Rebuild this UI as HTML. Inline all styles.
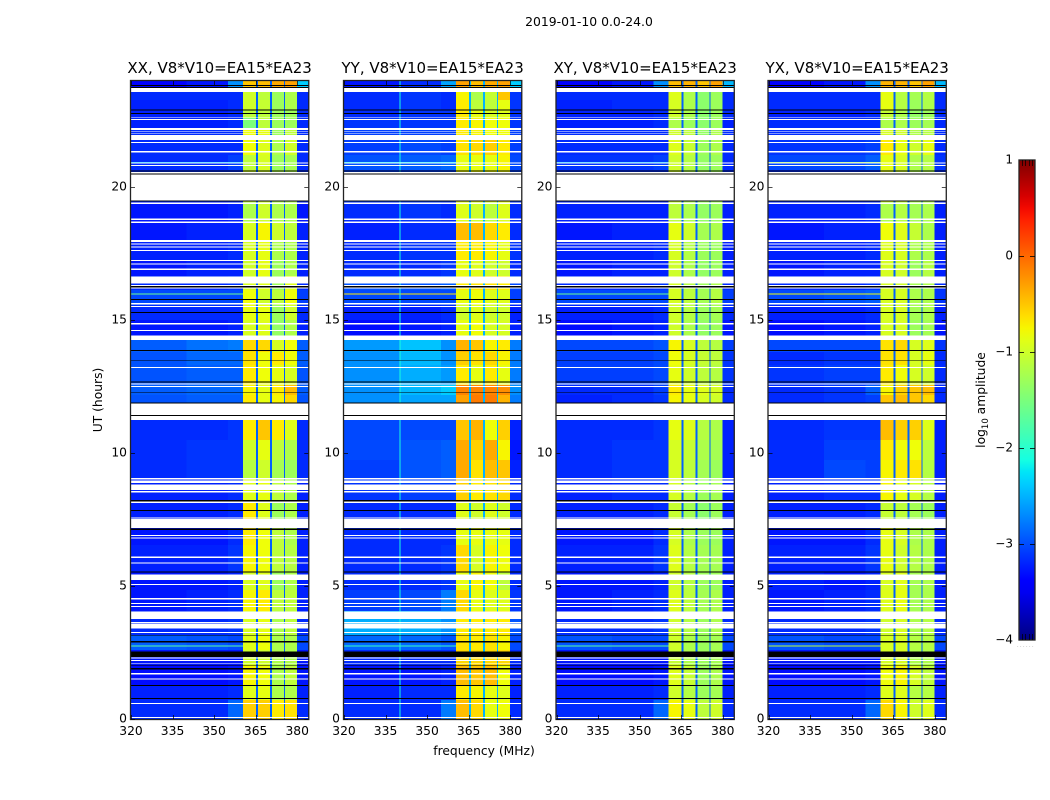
<!DOCTYPE html>
<html lang="en">
<head>
<meta charset="utf-8">
<title>2019-01-10 dynamic spectra</title>
<style>
html,body{margin:0;padding:0;background:#fff;}
svg{display:block;font-family:"DejaVu Sans","Liberation Sans",sans-serif;}
</style>
</head>
<body>
<svg id="figure" width="1050" height="800" viewBox="0 0 1050 800" xmlns="http://www.w3.org/2000/svg">
<rect width="1050" height="800" fill="#fff"/>
<text x="589" y="26" font-size="12.4" text-anchor="middle" fill="#000">2019-01-10 0.0-24.0</text>
<text x="484" y="755" font-size="12.3" text-anchor="middle" fill="#000">frequency (MHz)</text>
<text x="0" y="0" transform="translate(102,400) rotate(-90)" font-size="12.3" text-anchor="middle" fill="#000">UT (hours)</text>
<text x="0" y="0" transform="translate(985,400) rotate(-90)" font-size="12.3" text-anchor="middle" fill="#000">log<tspan font-size="8.5" dy="3">10</tspan><tspan dy="-3"> amplitude</tspan></text>
<g id="panels"></g>
<g id="colorbar"></g>
</svg>
<script>
/* ---------- axis data ---------- */
const panelTitles = ["XX, V8*V10=EA15*EA23","YY, V8*V10=EA15*EA23","XY, V8*V10=EA15*EA23","YX, V8*V10=EA15*EA23"];
const freqTicks = [320,335,350,365,380];
const utTicks = [0,5,10,15,20];
const colorbarTicks = [1,0,-1,-2,-3,-4];
const colorbarTickLabels = ["1","0","\u22121","\u22122","\u22123","\u22124"];
const colorbarMinorFrac = [0.2,0.4,0.6,0.8];

/* frequency column edges in MHz: three low-band blocks, four spectral windows with gaps, tail */
const columnEdges = [[320,340],[340,355],[355,360.4],[360.4,365.1],[365.8,370.2],[370.9,375.2],[375.6,380],[380,384]];
const gapEdges = [[365.1,365.8],[370.2,370.9],[375.2,375.6]];
const gapLevels = [-2.9,-2.5,-2.9,-2.9];
/* the speckled low band averages darker than its brightest pixels */
const lowBandShift = -0.17;

/* UT band edges (hours), top to bottom */
const bandEdges = [24,23.76,23.27,22.89,22.59,22.14,21.77,21.2,20.64,19.44,18.68,18.01,17.26,16.65,16.13,15.56,15,14.25,13.8,13.31,12.56,12.18,11.88,11.24,10.49,9.74,9.06,8.23,7.52,6.54,5.53,4.85,4.06,3.16,2.59,2.03,1.28,0.71,0];

/* log10 amplitude per band: low-a, low-b, low-c, spw1, spw2, spw3, spw4, tail */
const xxRows = [
[-3.2,-3.1,-2.5,-.5,-.45,-.35,-.3,-2.2],
[-3,-3,-3,-1,-1.1,-1.3,-1.2,-3],
[-3.05,-3.05,-3,-1,-1.05,-1.3,-1.2,-3],
[-3.05,-3.05,-3,-1.1,-1.1,-1.3,-1.3,-3],
[-3.05,-3.05,-3,-1.5,-1.1,-1.3,-1.3,-3],
[-3,-3,-3,-.8,-.85,-1.3,-1.1,-3],
[-3,-3,-3,-.8,-.9,-1.2,-1,-3],
[-3,-3,-2.9,-1.1,-.95,-1.3,-1.25,-3],
[-3,-3,-3,-1,-1,-1.2,-1.2,-3],
[-3.1,-3.1,-3.05,-1.2,-1,-1.2,-1.2,-3.1],
[-3.1,-3.05,-3.05,-.95,-.75,-1,-1.1,-3.05],
[-3.05,-3.05,-3,-.95,-.85,-1.2,-1.2,-3.05],
[-3.1,-3.05,-3.05,-1,-.85,-1.3,-1.2,-3.05],
[-3,-3,-2.95,-.95,-.9,-1.3,-.9,-3],
[-2.85,-2.85,-2.85,-.8,-1,-1.1,-.8,-2.9],
[-3,-3,-3,-.85,-.85,-1.3,-1,-3],
[-3.1,-3.1,-3.05,-.95,-.9,-1.35,-1.2,-3.05],
[-2.75,-2.65,-2.6,-.6,-.6,-.95,-.8,-2.75],
[-2.8,-2.7,-2.7,-.65,-.8,-.7,-.8,-2.75],
[-2.8,-2.75,-2.75,-.7,-.8,-.85,-.95,-2.8],
[-2.75,-2.7,-2.7,-.75,-.85,-.7,-.45,-2.75],
[-2.8,-2.75,-2.75,-.7,-.85,-.75,-.6,-2.8],
[-2.9,-2.9,-2.9,-.7,-.85,-.75,-.8,-2.9],
[-3,-3,-2.95,-.7,-.5,-.7,-.9,-3],
[-3,-2.95,-2.95,-1,-.85,-1.1,-1.2,-3],
[-3,-2.95,-2.95,-1.15,-1,-1.25,-1.3,-3],
[-3.05,-3.05,-3,-.9,-.85,-1.1,-1.2,-3.05],
[-3.05,-3.05,-3,-.7,-.9,-1.3,-1.2,-3.05],
[-3.1,-3.1,-3,-.7,-.8,-1.1,-1.2,-3.05],
[-3.05,-3.05,-2.95,-.75,-.8,-1.1,-1.15,-3.05],
[-3.1,-3.1,-3.05,-.95,-.9,-1.3,-1.2,-3.05],
[-3.1,-3.05,-3,-.75,-.7,-1.1,-1.1,-3.05],
[-3,-3,-2.95,-.95,-.85,-1.2,-1.1,-3],
[-2.75,-2.8,-2.85,-.9,-.8,-1.2,-1.2,-2.85],
[-3.1,-3.1,-3.1,-1,-1,-1.2,-1.2,-3.1],
[-3.15,-3.15,-3.1,-.75,-.8,-1.2,-1.1,-3.1],
[-3.05,-3.05,-3,-.9,-.85,-1.2,-1.2,-3.05],
[-3,-3,-2.7,-.55,-.55,-.7,-.65,-3]
];
const yyRows = [
[-3.1,-3,-2.4,-.3,-.45,-.35,-.3,-2.2],
[-3,-2.95,-3,-.75,-1.2,-1.05,-.5,-2.95],
[-3,-2.95,-3,-.7,-1.1,-1.1,-.85,-2.95],
[-3,-2.95,-2.95,-.7,-.85,-.95,-.9,-2.95],
[-2.95,-2.95,-2.95,-.7,-.75,-.8,-.8,-2.95],
[-2.9,-2.9,-2.9,-.7,-.75,-.8,-.8,-2.9],
[-2.9,-2.85,-2.9,-.65,-.6,-.55,-.7,-2.9],
[-2.8,-2.75,-2.7,-.85,-.85,-.85,-.75,-2.85],
[-2.9,-2.9,-2.9,-.8,-.8,-.8,-.8,-2.9],
[-3,-2.95,-3,-.9,-1,-1.1,-.9,-3],
[-3.05,-3,-3,-.45,-.45,-.6,-.7,-3],
[-3,-2.95,-2.95,-.7,-.7,-.75,-.85,-2.95],
[-3,-3,-2.95,-.85,-.9,-1,-1,-3],
[-2.8,-2.8,-2.75,-.7,-.65,-.65,-.7,-2.85],
[-2.85,-2.85,-2.85,-.85,-.8,-.9,-.9,-2.9],
[-3.05,-3.05,-3,-1,-.9,-1,-1,-3.05],
[-3.15,-3.1,-3.05,-.85,-.8,-.95,-.95,-3.05],
[-2.45,-2.25,-2.5,-.4,-.5,-.75,-.7,-2.6],
[-2.5,-2.3,-2.5,-.55,-.65,-.6,-.75,-2.6],
[-2.5,-2.35,-2.45,-.7,-.85,-.7,-.85,-2.6],
[-2.5,-2.3,-2.2,-.15,-.15,-.15,-.2,-2.5],
[-2.5,-2.4,-2.4,-.3,-.1,-.1,-.4,-2.6],
[-2.6,-2.6,-2.6,-.5,-.5,-.5,-.5,-2.7],
[-2.85,-2.85,-2.85,-.5,-.4,-.8,-.55,-3.05],
[-2.85,-2.8,-2.75,-.35,-.55,-.35,-.75,-3.1],
[-2.9,-2.8,-2.75,-.35,-.65,-.45,-.5,-3.05],
[-2.95,-2.9,-2.9,-.55,-.7,-.65,-.6,-3],
[-3,-3,-3,-.9,-1,-.9,-1,-3],
[-3,-3,-3,-.85,-.85,-.85,-.85,-3],
[-3,-3,-2.95,-.6,-.95,-.75,-.8,-3],
[-3,-3,-2.95,-.85,-.75,-.8,-1.1,-3],
[-2.9,-2.85,-2.6,-.6,-.85,-.9,-.9,-2.95],
[-2.35,-2.35,-2.5,-.7,-.7,-.7,-.7,-2.8],
[-2.7,-2.7,-2.8,-.65,-.7,-.65,-.75,-2.85],
[-3,-3,-3,-.6,-.6,-.6,-.6,-3],
[-3.1,-3.1,-3.05,-.45,-.5,-.45,-.8,-3.05],
[-3.05,-3,-3,-.7,-.75,-.85,-.9,-3.05],
[-3,-3,-2.6,-.45,-.6,-.85,-.8,-3]
];
const xyRows = [
[-3.2,-3.1,-2.5,-.45,-.4,-.5,-.3,-2.3],
[-3,-3,-3,-.9,-1.2,-1.4,-1.3,-3],
[-3.05,-3,-3,-.95,-1.2,-1.4,-1.3,-3],
[-3.05,-3.05,-3,-1,-1.2,-1.4,-1.3,-3],
[-3.05,-3.05,-3,-1.2,-1.3,-1.4,-1.3,-3.05],
[-3,-3,-3,-1,-1.1,-1.35,-1.2,-3],
[-3,-3,-3,-.9,-1.05,-1.3,-1.2,-3],
[-2.95,-2.95,-2.9,-1,-1.15,-1.35,-1.3,-3],
[-3,-3,-3,-1,-1.2,-1.3,-1.3,-3],
[-3.05,-3.05,-3.05,-1.1,-1.2,-1.35,-1.3,-3.05],
[-3.1,-3.05,-3.05,-.85,-1,-1.25,-1.2,-3.05],
[-3.05,-3.05,-3,-.95,-1.15,-1.3,-1.3,-3.05],
[-3.1,-3.05,-3.05,-1,-1.2,-1.35,-1.3,-3.05],
[-3,-3,-2.95,-.95,-1.15,-1.3,-1.2,-3],
[-2.85,-2.85,-2.85,-.95,-1.1,-1.25,-1.15,-2.9],
[-3.05,-3.05,-3,-1,-1.15,-1.3,-1.25,-3],
[-3.15,-3.1,-3.05,-1,-1.2,-1.35,-1.3,-3.1],
[-2.85,-2.85,-2.8,-.75,-.95,-1.1,-1.15,-2.9],
[-2.9,-2.9,-2.85,-.8,-.95,-1.05,-1.1,-2.95],
[-2.9,-2.9,-2.85,-.85,-1,-1.1,-1.15,-2.95],
[-3,-3,-2.9,-.7,-.85,-.9,-.95,-3],
[-3.05,-3,-2.95,-.75,-.85,-.95,-1,-3],
[-3,-3,-3,-.9,-1,-1.1,-1.1,-3],
[-3,-3,-2.95,-.85,-.9,-1.15,-1.2,-3.05],
[-3,-2.95,-2.95,-.95,-1.05,-1.2,-1.25,-3.05],
[-3,-2.95,-2.95,-.95,-1.1,-1.25,-1.3,-3.05],
[-3.05,-3,-3,-.95,-1.15,-1.3,-1.25,-3.05],
[-3.05,-3.05,-3,-1.05,-1.25,-1.4,-1.3,-3.05],
[-3.1,-3.1,-3,-.95,-1.2,-1.3,-1.3,-3.05],
[-3.05,-3.05,-2.95,-.9,-1.15,-1.25,-1.25,-3.05],
[-3.1,-3.1,-3.05,-1,-1.15,-1.3,-1.3,-3.05],
[-3.1,-3.05,-3,-.9,-1.1,-1.25,-1.2,-3.05],
[-3,-3,-2.95,-1,-1.15,-1.3,-1.2,-3],
[-2.8,-2.85,-2.85,-1,-1.2,-1.3,-1.25,-2.85],
[-3.1,-3.1,-3.1,-1.05,-1.2,-1.3,-1.25,-3.1],
[-3.15,-3.15,-3.1,-.9,-1.05,-1.3,-1.2,-3.1],
[-3.05,-3.05,-3,-1,-1.15,-1.3,-1.25,-3.05],
[-3,-3,-2.7,-.75,-.85,-1.1,-1,-3]
];
const yxRows = [
[-3.2,-3.1,-2.5,-.4,-.4,-.5,-.3,-2.3],
[-3,-3,-3,-.85,-1.15,-1.25,-1.15,-3],
[-3,-3,-3,-.85,-1.15,-1.3,-1.2,-3],
[-3.05,-3.05,-3,-1.05,-1.2,-1.35,-1.3,-3],
[-3,-3,-3,-1.2,-1.2,-1.3,-1.25,-3],
[-3,-3,-3,-.95,-1,-1.2,-1.15,-3],
[-2.95,-2.95,-2.9,-.7,-.85,-1,-.85,-3],
[-2.85,-2.85,-2.75,-.85,-.95,-1.2,-1.15,-2.95],
[-3,-3,-3,-.9,-1,-1.2,-1.2,-3],
[-3.05,-3.05,-3,-1.2,-1.15,-1.25,-1.2,-3.05],
[-3.1,-3.05,-3.05,-.8,-.9,-1.05,-1.2,-3.05],
[-3.05,-3.05,-3,-.9,-.95,-1.2,-1.2,-3.05],
[-3.1,-3.05,-3.05,-.95,-1,-1.3,-1.15,-3.05],
[-3,-3,-2.95,-.95,-1,-1.25,-1.2,-3],
[-2.85,-2.8,-2.75,-.95,-.95,-1.2,-1.2,-2.95],
[-3.05,-3.05,-3,-.95,-.95,-1.25,-1.2,-3.05],
[-3.15,-3.1,-3.05,-.95,-.95,-1.3,-1.25,-3.1],
[-2.85,-2.85,-2.85,-.65,-.6,-.95,-.9,-2.95],
[-3,-2.95,-2.95,-.65,-.65,-.95,-.85,-3],
[-2.95,-2.9,-2.9,-.7,-.8,-.95,-1,-3],
[-3,-2.95,-2.75,-.75,-.55,-.5,-.45,-3],
[-3,-2.95,-2.9,-.5,-.45,-.5,-.6,-3],
[-3,-3,-3,-.7,-.7,-.8,-.9,-3],
[-3,-2.95,-2.95,-.45,-.55,-.55,-.9,-3.05],
[-3,-2.9,-2.9,-.7,-.8,-.8,-1.1,-3.05],
[-3,-2.85,-2.9,-.75,-.7,-.65,-1.15,-3.05],
[-3.05,-3,-3,-.75,-.85,-.95,-1.15,-3.05],
[-3.05,-3.05,-3,-1.05,-1.1,-1.25,-1.3,-3.05],
[-3.1,-3.1,-3,-.85,-.95,-1.2,-1.2,-3.05],
[-3.05,-3.05,-2.95,-.85,-1,-1.15,-1.2,-3.05],
[-3.05,-3.1,-3.05,-.95,-.9,-1.25,-1.2,-3.05],
[-3.1,-3.05,-3,-.9,-.85,-1.25,-1.2,-3.05],
[-3,-3,-2.95,-1,-.95,-1.2,-1.15,-3],
[-2.8,-2.85,-2.85,-.95,-.95,-1.15,-1.15,-2.85],
[-3.1,-3.1,-3.1,-.95,-.95,-1.2,-1.2,-3.1],
[-3.15,-3.15,-3.1,-.8,-.75,-.95,-1.1,-3.1],
[-3.05,-3.05,-3,-.9,-.9,-1.15,-1.15,-3.05],
[-3,-3,-2.7,-.6,-.75,-1,-.9,-3]
];
const panelRows = [xxRows,yyRows,xyRows,yxRows];

/* flagged (blank) UT ranges in hours */
const flaggedRanges = [[23.75,23.58],[22.62,22.59],[22.55,22.52],[22.21,22.15],[22.09,22.07],[22.02,21.99],[21.95,21.77],[21.69,21.65],[21.35,21.3],[20.93,20.88],[20.83,20.79],[20.56,20.5],[20.47,19.47],[19.41,19.36],[18.81,18.76],[18.7,18.65],[18.01,17.93],[17.88,17.83],[17.76,17.72],[17.63,17.59],[17.26,17.22],[17.13,17.08],[16.94,16.88],[16.63,16.38],[16.32,16.28],[16.23,16.19],[15.63,15.59],[15.53,15.49],[14.88,14.84],[14.62,14.59],[14.41,14.25],[13.23,13.2],[12.61,12.57],[12.52,12.48],[11.87,11.43],[11.39,11.24],[9.06,9],[8.97,8.87],[8.82,8.61],[8.57,8.51],[8.18,8.12],[7.57,7.53],[7.52,7.18],[6.92,6.88],[6.82,6.78],[6.1,6.06],[5.88,5.84],[5.43,5.23],[5.08,5.04],[4.54,4.5],[4.37,4.32],[4.25,4.21],[4.04,3.76],[3.64,3.59],[3.57,3.41],[3.28,3.24],[2.32,2.28],[2.22,2.18],[2.09,2.06],[1.72,1.68],[1.52,1.48],[0.6,0.56],[0.08,0.04]];

/* zero-amplitude (dark) UT ranges in hours */
const darkRanges = [[23.83,23.79],[23.76,23.73],[22.92,22.88],[22.79,22.75],[20.62,20.58],[20.5,20.47],[19.49,19.46],[16.27,16.23],[15.79,15.76],[15.3,15.27],[13.87,13.84],[13.5,13.47],[12.68,12.65],[12.3,12.27],[11.9,11.87],[11.43,11.39],[8.23,8.18],[7.86,7.82],[7.16,7.11],[5.55,5.51],[3.16,3.13],[2.94,2.87],[2.53,2.34],[2.02,1.99],[1.91,1.87],[1.27,1.24],[0.79,0.76]];

/* narrowband interference rows: UT hour and level per panel (XX,YY,XY,YX) */
const rfiHours = [22.17,20.92,15.98,2.74];
const rfiLevels = [[-2.2,-0.5,-2.2,-0.5],[-2.4,-2.2,-2.4,-1.2],[-1.6,-0.7,-1.6,-0.8],[-1.7,-1.9,-1.7,-1.1]];
/* vertical interference column seen in YY */
const yyRfiFreq = 340;
const yyRfiLevel = -2.1;

/* ---------- layout ---------- */
const panelLeft = [131,344,556.5,768.5];
const plotTop = 81, plotBottom = 719;
const pxPerMHz = 2.77, pxPerHour = 26.6;
const NS = "http://www.w3.org/2000/svg";

function xScale(panel, freq){ return panelLeft[panel] + (freq-320)*pxPerMHz; }
function yScale(ut){ return plotBottom - ut*pxPerHour; }
function jet(t){
  t = Math.max(0,Math.min(1,t));
  function lerp(pts){
    for(let i=1;i<pts.length;i++){
      if(t<=pts[i][0]){
        const a=pts[i-1], b=pts[i];
        return a[1]+(b[1]-a[1])*(t-a[0])/(b[0]-a[0]);
      }
    }
    return pts[pts.length-1][1];
  }
  const r=lerp([[0,0],[.35,0],[.66,1],[.89,1],[1,.5]]);
  const g=lerp([[0,0],[.125,0],[.375,1],[.64,1],[.91,0],[1,0]]);
  const b=lerp([[0,.5],[.11,1],[.34,1],[.65,0],[1,0]]);
  return "rgb("+Math.round(r*255)+","+Math.round(g*255)+","+Math.round(b*255)+")";
}
function levelColor(v){ return jet((v+4)/5); }
function make(tag, attrs, parent){
  const el=document.createElementNS(NS,tag);
  for(const k in attrs){ el.setAttribute(k,attrs[k]); }
  parent.appendChild(el);
  return el;
}
function band(parent, x0, x1, u0, u1, fill){
  return make("rect",{x:x0,y:yScale(u0),width:x1-x0,height:Math.max(yScale(u1)-yScale(u0),0.6),fill:fill,"shape-rendering":"crispEdges"},parent);
}

const panelsRoot=document.getElementById("panels");
panelRows.forEach(function(rows,p){
  const g=make("g",{},panelsRoot);
  
  
  const x0=xScale(p,320), x1=xScale(p,384);

  rows.forEach(function(row,r){
    columnEdges.forEach(function(col,c){
      const isLow = c<3 || c===7;
      const cell=band(g,xScale(p,col[0]),xScale(p,col[1]),bandEdges[r],bandEdges[r+1],levelColor(row[c]+(isLow?lowBandShift:0)));
      
      
    });
    gapEdges.forEach(function(col){
      const gap=band(g,xScale(p,col[0]),xScale(p,col[1]),bandEdges[r],bandEdges[r+1],levelColor(gapLevels[p]));
      
      
    });
  });

  rfiHours.forEach(function(u,i){
    const line=band(g,x0,xScale(p,360.4),u+0.02,u-0.02,levelColor(rfiLevels[i][p]));
    
    
  });
  if(p===1){
    const col=band(g,xScale(p,yyRfiFreq),xScale(p,yyRfiFreq)+1,24,0,levelColor(yyRfiLevel));
    
    
  }
  flaggedRanges.forEach(function(f){
    const w=band(g,x0,x1,f[0],f[1],"#fff");
    
    
  });
  darkRanges.forEach(function(f){
    const k=band(g,x0,x1,f[0],f[1],"#000");
    
    
  });

  const frame=make("rect",{x:x0-0.5,y:plotTop-0.5,width:x1-x0+1,height:plotBottom-plotTop+1,fill:"none",stroke:"#222","stroke-width":1.3},g);
  
  

  freqTicks.forEach(function(f){
    const x=Math.round(xScale(p,f))+0.5;
    const t1=make("line",{x1:x,x2:x,y1:plotBottom,y2:plotBottom-4,stroke:"#000","stroke-width":.7},g);
    
    
    const t2=make("line",{x1:x,x2:x,y1:plotTop,y2:plotTop+4,stroke:"#000","stroke-width":.7},g);
    
    
    const lab=make("text",{x:xScale(p,f),y:735,"font-size":12.3,"text-anchor":"middle",fill:"#000"},g);
    lab.textContent=String(f);
    
    
  });
  utTicks.forEach(function(u){
    const y=Math.round(yScale(u))+0.5;
    const t1=make("line",{x1:x0,x2:x0+4,y1:y,y2:y,stroke:"#000","stroke-width":.7},g);
    
    
    const t2=make("line",{x1:x1,x2:x1-4,y1:y,y2:y,stroke:"#000","stroke-width":.7},g);
    
    
    const lab=make("text",{x:x0-4,y:yScale(u)+3.7,"font-size":12.3,"text-anchor":"end",fill:"#000"},g);
    lab.textContent=String(u);
    
    
  });
  const title=make("text",{x:(x0+x1)/2,y:73,"font-size":15,"text-anchor":"middle",fill:"#000"},g);
  title.textContent=panelTitles[p];
  
  
});

/* ---------- colorbar ---------- */
const cbRoot=document.getElementById("colorbar");
const cbLeft=1019, cbRight=1035, cbTop=160, cbBottom=640;
function cbScale(v){ return cbBottom-(v+4)/5*(cbBottom-cbTop); }
const defs=make("defs",{},cbRoot);
const grad=make("linearGradient",{id:"jetGrad",x1:0,y1:1,x2:0,y2:0},defs);
for(let i=0;i<=40;i++){
  make("stop",{offset:(i/40),"stop-color":jet(i/40)},grad);
}
const cbBar=make("rect",{x:cbLeft,y:cbTop,width:cbRight-cbLeft,height:cbBottom-cbTop,fill:"url(#jetGrad)",stroke:"#222","stroke-width":1.3},cbRoot);


colorbarTicks.forEach(function(v,i){
  const y=Math.round(cbScale(v))+0.5;
  if(v>-4 && v<1){
    const a=make("line",{x1:cbLeft,x2:cbLeft+5,y1:y,y2:y,stroke:"#000","stroke-width":.8},cbRoot);
    
    
    const b=make("line",{x1:cbRight,x2:cbRight-5,y1:y,y2:y,stroke:"#000","stroke-width":.8},cbRoot);
    
    
  }
  const lab=make("text",{x:1013,y:cbScale(v)+3.5,"font-size":12,"text-anchor":"end",fill:"#000"},cbRoot);
  lab.textContent=colorbarTickLabels[i];
  
  
});
colorbarMinorFrac.forEach(function(f){
  const x=Math.round(cbLeft+f*(cbRight-cbLeft))+0.5;
  const a=make("line",{x1:x,x2:x,y1:cbTop,y2:cbTop+6,stroke:"#000","stroke-width":.7},cbRoot);
  
  
  const b=make("line",{x1:x,x2:x,y1:cbBottom,y2:cbBottom-6,stroke:"#000","stroke-width":.7},cbRoot);
  
  
});
const cbDots=make("text",{x:1026,y:647,"font-size":5,"text-anchor":"middle",fill:"#888","letter-spacing":"1.4"},cbRoot);
cbDots.textContent="......";


</script>
</body>
</html>
